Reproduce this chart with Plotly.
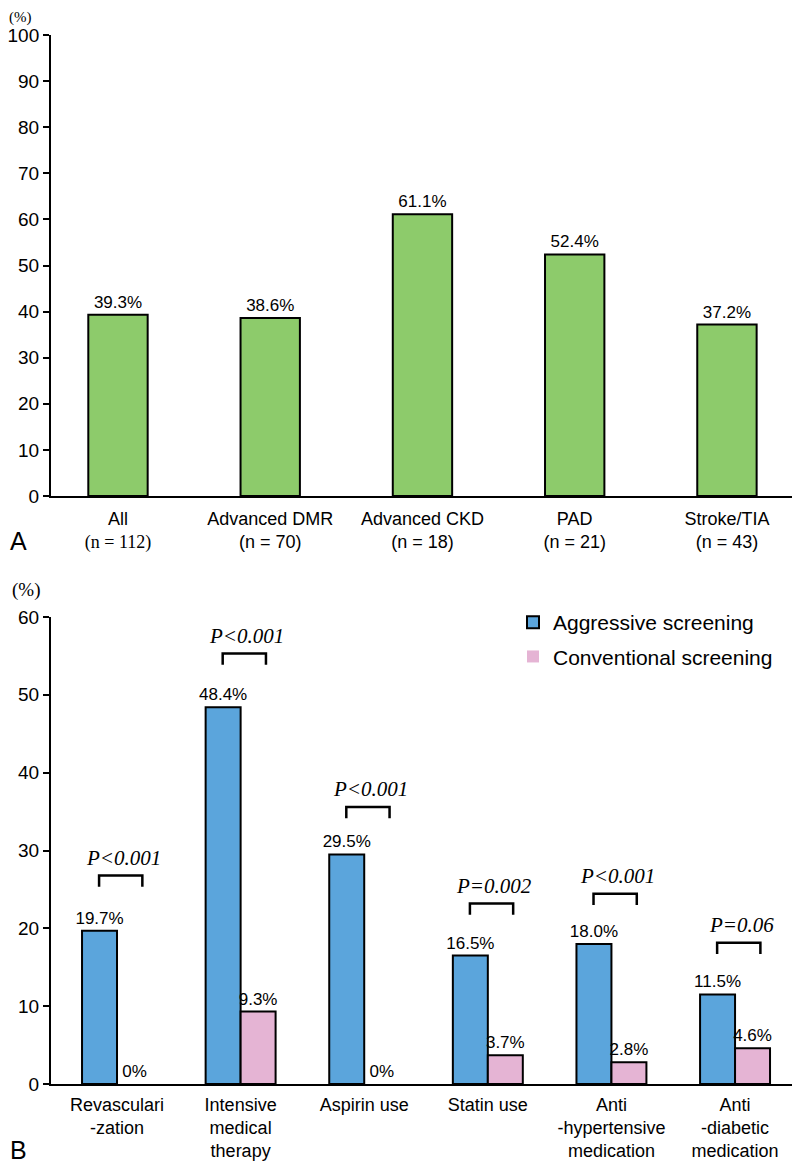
import plotly.graph_objects as go

# ---- Panel A data ----
a_categories = ["All<br><span style='font-family:Liberation Serif'>(n = 112)</span>",
                "Advanced DMR<br>(n = 70)", "Advanced CKD<br>(n = 18)",
                "PAD<br>(n = 21)", "Stroke/TIA<br>(n = 43)"]
a_values = [39.3, 38.6, 61.1, 52.4, 37.2]
a_labels = ["39.3%", "38.6%", "61.1%", "52.4%", "37.2%"]

# ---- Panel B data ----
b_categories = ["Revasculari<br>-zation", "Intensive<br>medical<br>therapy", "Aspirin use",
                "Statin use", "Anti<br>-hypertensive<br>medication", "Anti<br>-diabetic<br>medication"]
b_aggressive = [19.7, 48.4, 29.5, 16.5, 18.0, 11.5]
b_conventional = [0, 9.3, 0, 3.7, 2.8, 4.6]
b_aggr_labels = ["19.7%", "48.4%", "29.5%", "16.5%", "18.0%", "11.5%"]
b_conv_labels = ["0%", "9.3%", "0%", "3.7%", "2.8%", "4.6%"]
b_pvalues = ["P<0.001", "P<0.001", "P<0.001", "P=0.002", "P<0.001", "P=0.06"]
# bracket heights (data units)
b_bracket_y = [26.8, 55.3, 35.6, 23.2, 24.45, 18.15]

GREEN = "#8DCB6B"
BLUE = "#5BA5DC"
PINK = "#E5B4D4"
SANS = "Liberation Sans, Arial, sans-serif"
SERIF = "Liberation Serif, Times New Roman, serif"

# page has an 8px body margin; figure fills the rest of the 800x1164 window
OFF = 8
W, H = 800 - OFF, 1164 - OFF


def px_x(x):
    return (x - OFF) / W


def px_y(y):
    return 1 - (y - OFF) / H


fig = go.Figure()

ax = list(range(len(a_values)))
fig.add_trace(go.Bar(x=ax, y=a_values, width=0.39, marker=dict(color=GREEN, line=dict(color="black", width=2)),
                     text=a_labels, textposition="outside", cliponaxis=False, constraintext="none",
                     textfont=dict(size=17, color="black", family=SANS),
                     showlegend=False, xaxis="x", yaxis="y"))

bx = list(range(len(b_aggressive)))
fig.add_trace(go.Bar(x=bx, y=b_aggressive, name="Aggressive screening", legendgroup="a",
                     marker=dict(color=BLUE, line=dict(color="black", width=2)),
                     text=b_aggr_labels, textposition="outside", cliponaxis=False, constraintext="none",
                     textfont=dict(size=17, color="black", family=SANS),
                     xaxis="x2", yaxis="y2"))
fig.add_trace(go.Bar(x=bx, y=b_conventional, name="Conventional screening", legendgroup="b",
                     marker=dict(color=PINK, line=dict(color="black",
                                                       width=[2 if v > 0 else 0 for v in b_conventional])),
                     text=b_conv_labels, textposition="outside", cliponaxis=False, constraintext="none",
                     textfont=dict(size=17, color="black", family=SANS),
                     xaxis="x2", yaxis="y2"))

xdom = [px_x(51), px_x(795)]
yaxis_common = dict(showgrid=False, zeroline=False, showline=True, linecolor="black", linewidth=2,
                    ticks="outside", ticklen=6, tickwidth=2, tickcolor="black", automargin=False,
                    tickfont=dict(size=19, family=SANS, color="black"), dtick=10)
xaxis_common = dict(showgrid=False, zeroline=False, showline=True, linecolor="black", linewidth=2,
                    ticks="", automargin=False, tickfont=dict(size=18, family=SANS, color="black"))

fig.update_layout(
    width=W, height=H, margin=dict(l=0, r=0, t=0, b=0, autoexpand=False),
    paper_bgcolor="white", plot_bgcolor="white",
    barmode="group", bargap=0.434, bargroupgap=0,
    xaxis=dict(domain=xdom, range=[-0.44, 4.447], tickvals=ax, ticktext=a_categories,
               anchor="y", ticklabelstandoff=5, **xaxis_common),
    yaxis=dict(domain=[px_y(496), px_y(35)], range=[0, 100], anchor="x", **yaxis_common),
    xaxis2=dict(domain=xdom, range=[-0.534, 5.485], tickvals=bx, ticktext=b_categories,
                anchor="y2", ticklabelstandoff=3, **xaxis_common),
    yaxis2=dict(domain=[px_y(1084), px_y(617)], range=[0, 60], anchor="x2", **yaxis_common),
    legend=dict(x=px_x(513), y=px_y(602), xanchor="left", yanchor="top",
                font=dict(size=21, family=SANS, color="black"),
                traceorder="grouped", tracegroupgap=4, bgcolor="rgba(0,0,0,0)"),
    font=dict(family=SANS, color="black"),
)

annotations = [
    dict(text="(%)", x=px_x(8), y=1.0, xref="paper", yref="paper", showarrow=False,
         xanchor="left", yanchor="top", borderpad=0, font=dict(size=15, family=SERIF)),
    dict(text="(%)", x=px_x(10), y=px_y(590), xref="paper", yref="paper", showarrow=False,
         xanchor="left", yanchor="middle", font=dict(size=19, family=SERIF)),
    dict(text="A", x=px_x(8), y=px_y(541), xref="paper", yref="paper", showarrow=False,
         xanchor="left", yanchor="middle", font=dict(size=25, family=SANS)),
    dict(text="B", x=px_x(8), y=px_y(1150), xref="paper", yref="paper", showarrow=False,
         xanchor="left", yanchor="middle", font=dict(size=25, family=SANS)),
]
shapes = []
for i, (p, yb) in enumerate(zip(b_pvalues, b_bracket_y)):
    x0, x1 = i - 0.145, i + 0.205
    shapes.append(dict(type="path", xref="x2", yref="y2",
                       path=f"M {x0},{yb - 1.45} L {x0},{yb} L {x1},{yb} L {x1},{yb - 1.45}",
                       line=dict(color="black", width=2.5)))
    annotations.append(dict(text=f"<i>{p}</i>", x=i + 0.05, y=yb + 2.3, xref="x2", yref="y2",
                            showarrow=False, xanchor="center", yanchor="middle",
                            font=dict(size=21, family=SERIF, color="black")))

fig.update_layout(annotations=annotations, shapes=shapes)
fig.write_html("out.html")
